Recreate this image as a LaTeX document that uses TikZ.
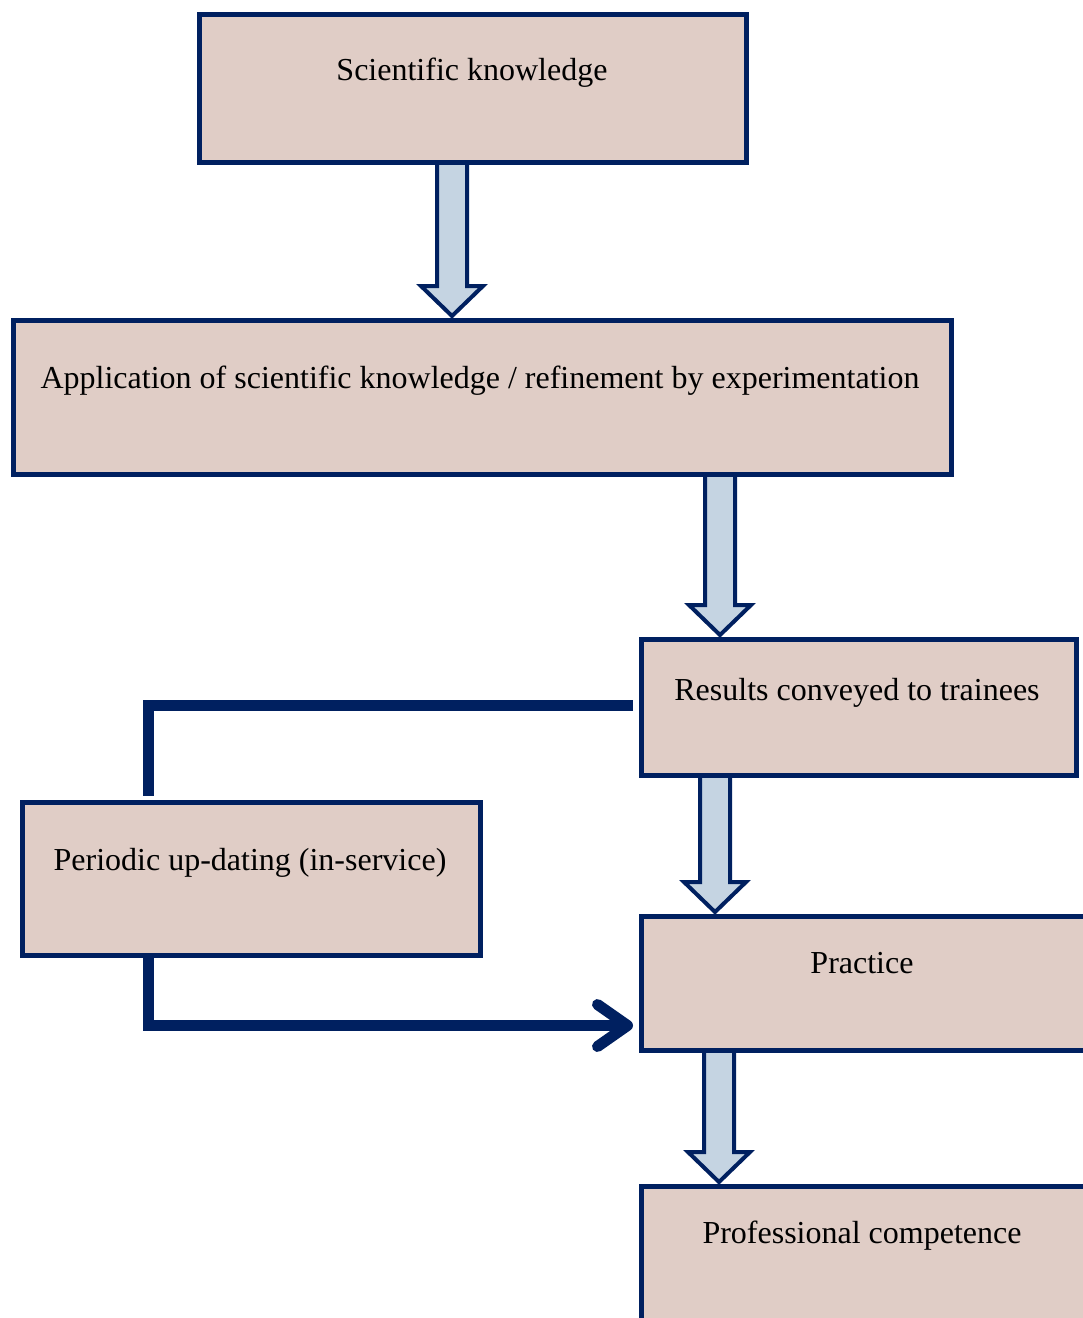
\documentclass[tikz,border=0pt]{standalone}
\usepackage{fontspec}
\setmainfont{Liberation Serif}
\usetikzlibrary{arrows.meta,backgrounds}
\definecolor{navy}{RGB}{0,32,96}
\definecolor{boxfill}{RGB}{224,205,198}
\definecolor{arrowfill}{RGB}{197,212,226}
\begin{document}
\begin{tikzpicture}[x=1pt,y=-1pt,
  box/.style={draw=navy, fill=boxfill, line width=5pt, rectangle, inner sep=0pt, outer sep=0pt, anchor=north west},
  txt/.style={anchor=base, inner sep=0pt, font=\fontsize{32}{38}\selectfont},
  conn/.style={draw=navy, line width=11pt},
  barrow/.style={draw=navy, fill=arrowfill, line width=4pt, line join=miter}
]
\useasboundingbox (0,0) rectangle (1083,1318);
\clip (0,0) rectangle (1083,1318);

% boxes
\node[box, minimum width=547pt, minimum height=148pt] (sci) at (199,14) {};
\node[box, minimum width=938pt, minimum height=154pt] (app) at (13,320) {};
\node[box, minimum width=435pt, minimum height=136pt] (res) at (641,639) {};
\node[box, minimum width=458pt, minimum height=153pt] (per) at (22,802) {};
\node[box, minimum width=460pt, minimum height=134pt] (prac) at (641,916) {};
\node[box, minimum width=460pt, minimum height=160pt] (prof) at (641,1186) {};

% texts
\node[txt] (t1) at (472,80) {Scientific knowledge};
\node[txt] (t2) at (480,388) {Application of scientific knowledge / refinement by experimentation};
\node[txt] (t3) at (857,700) {Results conveyed to trainees};
\node[txt] (t4) at (250,870) {Periodic up-dating (in-service)};
\node[txt] (t5) at (862,973) {Practice};
\node[txt] (t6) at (862,1243) {Professional competence};

% x positions of block arrows
\coordinate (a1) at (452,0);
\coordinate (a2) at (720,0);
\coordinate (a3) at (715,0);
\coordinate (a4) at (719,0);

\newcommand\blockarrow[3]{%
  \path[barrow]
    ([xshift=-15pt]#2 -| #1) --
    ([xshift=-15pt,yshift=34pt]#3 -| #1) --
    ([xshift=-31pt,yshift=34pt]#3 -| #1) --
    ([yshift=4pt]#3 -| #1) --
    ([xshift=31pt,yshift=34pt]#3 -| #1) --
    ([xshift=15pt,yshift=34pt]#3 -| #1) --
    ([xshift=15pt]#2 -| #1) -- cycle;}

\begin{scope}[on background layer]
  \fill[white] (0,0) rectangle (1083,1318);
  \blockarrow{a1}{sci.south}{app.north}
  \blockarrow{a2}{app.south}{res.north}
  \blockarrow{a3}{res.south}{prac.north}
  \blockarrow{a4}{prac.south}{prof.north}
\end{scope}

% connectors
\coordinate (vx) at (148.5,0);
\coordinate (hy) at (0,1025.5);
\draw[conn] ([xshift=-8pt,yshift=2pt]res.west) -| ([yshift=6pt]per.north -| vx);
\draw[conn, -{Straight Barb[round,length=30pt,width=42pt]}] (per.south -| vx) |- ([xshift=-8pt]prac.west |- hy);
\end{tikzpicture}
\end{document}
